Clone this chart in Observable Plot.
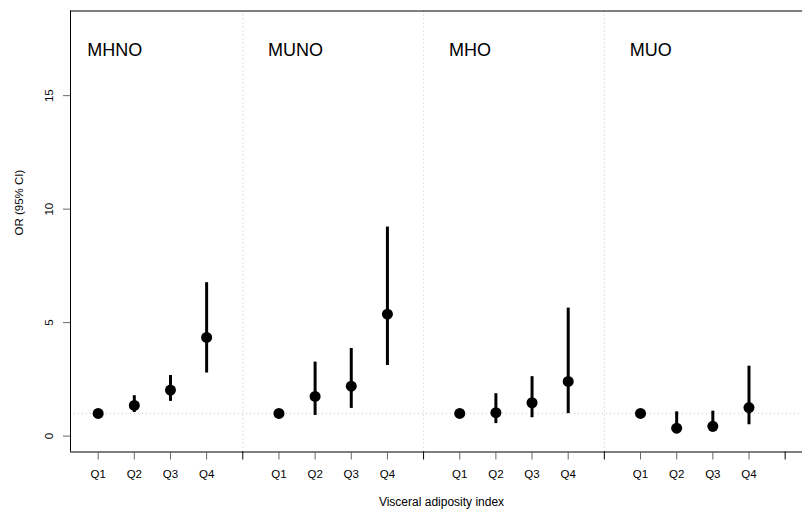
<!DOCTYPE html>
<html>
<head>
<meta charset="utf-8">
<script src="https://cdn.jsdelivr.net/npm/d3@7"></script>
<script src="https://cdn.jsdelivr.net/npm/@observablehq/plot@0.6"></script>
<style>
  html, body { margin: 0; padding: 0; background: #fff; }
  #chart svg { display: block; }
</style>
</head>
<body>
<div id="chart"></div>
<script>
// ---- data ----
const groups = ["MHNO", "MUNO", "MHO", "MUO"];
const quartiles = ["Q1", "Q2", "Q3", "Q4"];

const MHNO_or = [1.00, 1.35, 2.03, 4.35];
const MHNO_lo = [1.00, 1.04, 1.53, 2.78];
const MHNO_hi = [1.00, 1.78, 2.67, 6.76];

const MUNO_or = [1.00, 1.75, 2.20, 5.37];
const MUNO_lo = [1.00, 0.91, 1.22, 3.11];
const MUNO_hi = [1.00, 3.26, 3.86, 9.21];

const MHO_or = [1.00, 1.03, 1.47, 2.41];
const MHO_lo = [1.00, 0.55, 0.81, 0.99];
const MHO_hi = [1.00, 1.87, 2.62, 5.64];

const MUO_or = [1.00, 0.35, 0.43, 1.26];
const MUO_lo = [1.00, 0.12, 0.18, 0.50];
const MUO_hi = [1.00, 1.07, 1.10, 3.08];

const yTicks = [0, 5, 10, 15];
const xTitle = "Visceral adiposity index";
const yTitle = "OR (95% CI)";

// ---- build table ----
const ors = [MHNO_or, MUNO_or, MHO_or, MUO_or];
const los = [MHNO_lo, MUNO_lo, MHO_lo, MUO_lo];
const his = [MHNO_hi, MUNO_hi, MHO_hi, MUO_hi];
const step = 5;
const rows = groups.flatMap((g, gi) => quartiles.map((q, qi) => ({
  group: g, q, x: gi * step + qi + 1, or: ors[gi][qi], lo: los[gi][qi], hi: his[gi][qi]
})));
const qPos = rows.map(d => d.x);
const qLabel = new Map(rows.map(d => [d.x, d.q]));
const sepPos = groups.map((g, gi) => (gi + 1) * step);
const innerSep = sepPos.slice(0, -1);
const labelRows = groups.map((g, gi) => ({g, x: gi * step + 0.7}));

const xDomain = [0.235, 20.48];
const yDomain = [-0.7, 18.73];
const font = "'Liberation Sans', Arial, Helvetica, sans-serif";

const chart = Plot.plot({
  width: 802,
  height: 510,
  marginLeft: 70,
  marginRight: 0,
  marginTop: 10.5,
  marginBottom: 58.5,
  style: {fontFamily: font, fontSize: "11.5px", color: "#000", background: "#fff"},
  x: {type: "linear", domain: xDomain},
  y: {type: "linear", domain: yDomain},
  marks: [
    // reference lines
    Plot.ruleX(innerSep, {stroke: "#c8c8c8", strokeDasharray: "1,3"}),
    Plot.ruleY([1], {stroke: "#c8c8c8", strokeDasharray: "1,3"}),
    // box lines
    Plot.ruleX([xDomain[0]], {stroke: "#000"}),
    Plot.ruleY([yDomain[0]], {stroke: "#000"}),
    Plot.ruleY([yDomain[1]], {stroke: "#000"}),
    // axes
    Plot.axisY({ticks: yTicks, tickSize: 7, tickFormat: () => "", stroke: "#666", label: null}),
    Plot.text(yTicks, {x: xDomain[0], y: d => d, text: d => String(d), rotate: -90, dx: -21, textAnchor: "middle", lineAnchor: "middle", fontSize: 11.5}),
    Plot.axisX({ticks: qPos, tickSize: 8, tickPadding: 10, tickFormat: d => qLabel.get(d), stroke: "#666", fontSize: 11.5, label: null}),
    Plot.axisX({ticks: sepPos, tickSize: 8, tickFormat: () => "", stroke: "#000", label: null}),
    // titles
    Plot.text([xTitle], {frameAnchor: "bottom", dx: 5, dy: 50, lineAnchor: "middle", fontSize: 12}),
    Plot.text([yTitle], {frameAnchor: "left", rotate: -90, dx: -51, dy: 4, lineAnchor: "middle", fontSize: 11.5}),
    // panel labels
    Plot.text(labelRows, {x: "x", y: () => 17, text: "g", textAnchor: "start", lineAnchor: "middle", fontSize: 18}),
    // CIs and points
    Plot.ruleX(rows, {x: "x", y1: "lo", y2: "hi", stroke: "#000", strokeWidth: 3}),
    Plot.dot(rows, {x: "x", y: "or", r: 5.5, fill: "#000", stroke: "none"})
  ]
});
document.getElementById("chart").append(chart);
</script>
</body>
</html>
